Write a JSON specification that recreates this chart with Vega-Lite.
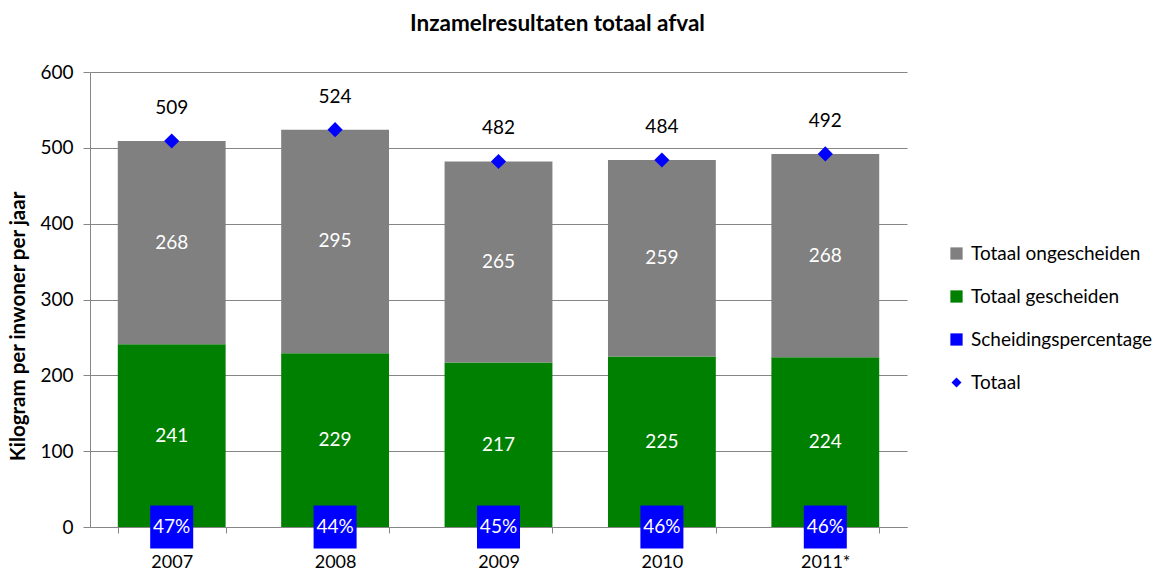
{
  "$schema": "https://vega.github.io/schema/vega-lite/v6.json",
  "width": 817,
  "height": 455,
  "autosize": {"type": "none"},
  "padding": {"left": 90, "top": 72, "right": 253, "bottom": 44},
  "config": {"font": "Lato", "view": {"stroke": null}},
  "title": {"text": "Inzamelresultaten totaal afval", "fontSize": 22.5, "fontWeight": "bold", "color": "black", "dx": 59, "offset": 28, "anchor": "middle"},
  "datasets": {
    "parts": [
      {"year": "2007", "series": "Totaal gescheiden", "value": 241},
      {"year": "2007", "series": "Totaal ongescheiden", "value": 268},
      {"year": "2008", "series": "Totaal gescheiden", "value": 229},
      {"year": "2008", "series": "Totaal ongescheiden", "value": 295},
      {"year": "2009", "series": "Totaal gescheiden", "value": 217},
      {"year": "2009", "series": "Totaal ongescheiden", "value": 265},
      {"year": "2010", "series": "Totaal gescheiden", "value": 225},
      {"year": "2010", "series": "Totaal ongescheiden", "value": 259},
      {"year": "2011*", "series": "Totaal gescheiden", "value": 224},
      {"year": "2011*", "series": "Totaal ongescheiden", "value": 268}
    ],
    "totals": [
      {"year": "2007", "totaal": 509, "pct": "47%"},
      {"year": "2008", "totaal": 524, "pct": "44%"},
      {"year": "2009", "totaal": 482, "pct": "45%"},
      {"year": "2010", "totaal": 484, "pct": "46%"},
      {"year": "2011*", "totaal": 492, "pct": "46%"}
    ]
  },
  "encoding": {
    "x": {
      "field": "year", "type": "nominal", "sort": null,
      "scale": {"paddingInner": 0.34, "paddingOuter": 0.17},
      "axis": {"title": null, "labelAngle": 0, "labelFontSize": 18, "labelColor": "black", "domainColor": "#868686", "tickColor": "#868686", "tickSize": 6, "tickBand": "extent", "labelPadding": 20}
    }
  },
  "layer": [
    {
      "data": {"name": "parts"},
      "mark": {"type": "bar"},
      "encoding": {
        "y": {
          "field": "value", "type": "quantitative", "stack": "zero",
          "scale": {"domain": [0, 600], "nice": false},
          "axis": {"values": [0, 100, 200, 300, 400, 500, 600], "title": "Kilogram per inwoner per jaar", "titleFontSize": 20.5, "titleFontWeight": "bold", "titleColor": "black", "titleX": -72, "titleY": 254, "titleAngle": -90, "titleAlign": "center", "titleBaseline": "middle", "labelFontSize": 19, "labelColor": "black", "labelPadding": 10, "domainColor": "#868686", "tickColor": "#868686", "tickSize": 7, "gridColor": "#868686", "gridOpacity": 1}
        },
        "order": {"field": "series", "sort": "ascending"},
        "color": {
          "field": "series", "type": "nominal",
          "scale": {"domain": ["Totaal ongescheiden", "Totaal gescheiden", "Scheidingspercentage", "Totaal"], "range": ["#808080", "#008000", "#0000FF", "#0000FF"]},
          "legend": {
            "title": null, "orient": "none", "legendX": 857, "legendY": 172, "padding": 0,
            "labelFontSize": 19, "labelColor": "black", "labelOffset": 5, "rowPadding": 23, "labelLimit": 300,
            "symbolStrokeWidth": 0,
            "encode": {
              "symbols": {
                "update": {
                  "shape": {"signal": "datum.label == 'Totaal' ? 'diamond' : 'square'"},
                  "size": {"signal": "datum.label == 'Totaal' ? 100 : 150"},
                  "fill": {"scale": "color", "field": "value"},
                  "opacity": {"value": 1}
                }
              }
            }
          }
        }
      }
    },
    {
      "data": {"name": "parts"},
      "transform": [
        {"stack": "value", "groupby": ["year"], "sort": [{"field": "series", "order": "ascending"}], "as": ["v0", "v1"]},
        {"calculate": "(datum.v0 + datum.v1) / 2", "as": "mid"}
      ],
      "mark": {"type": "text", "color": "white", "fontSize": 19, "baseline": "middle"},
      "encoding": {
        "y": {"field": "mid", "type": "quantitative"},
        "text": {"field": "value", "type": "quantitative"}
      }
    },
    {
      "data": {"name": "totals"},
      "mark": {"type": "point", "shape": "diamond", "filled": true, "size": 230, "opacity": 1},
      "encoding": {
        "y": {"field": "totaal", "type": "quantitative"},
        "color": {"datum": "Totaal"}
      }
    },
    {
      "data": {"name": "totals"},
      "mark": {"type": "text", "color": "black", "fontSize": 19, "baseline": "middle", "dy": -33},
      "encoding": {
        "y": {"field": "totaal", "type": "quantitative"},
        "text": {"field": "totaal", "type": "quantitative"}
      }
    },
    {
      "data": {"name": "totals"},
      "mark": {"type": "point", "shape": "square", "filled": true, "size": 1849, "opacity": 1},
      "encoding": {
        "y": {"datum": 0},
        "color": {"datum": "Scheidingspercentage"}
      }
    },
    {
      "data": {"name": "totals"},
      "mark": {"type": "text", "color": "white", "fontSize": 19, "baseline": "middle"},
      "encoding": {
        "y": {"datum": 0},
        "text": {"field": "pct", "type": "nominal"}
      }
    }
  ]
}
